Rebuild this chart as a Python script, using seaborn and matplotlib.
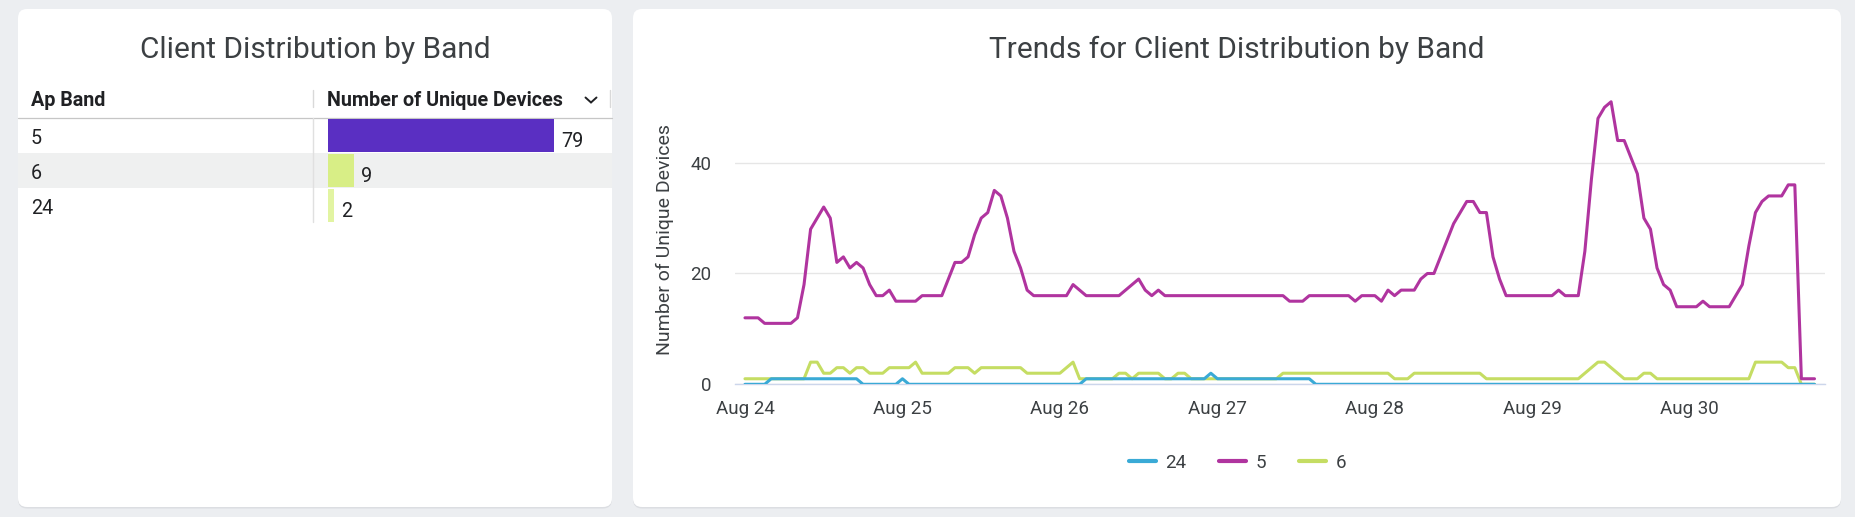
import pandas as pd
import matplotlib
matplotlib.use("Agg")
import matplotlib.pyplot as plt
import matplotlib.dates as mdates
import matplotlib.colors as mcolors
from matplotlib.patches import FancyBboxPatch, Rectangle
import seaborn as sns

W, H = 1856, 517

# --- table: client distribution by band ---
AP_BANDS = ["5", "6", "24"]
UNIQUE_DEVICES = [79, 9, 2]
BAR_COLORS = ["#5a2fc2", "#d8ee86", "#e2f4a2"]

# --- trend: hourly samples starting Aug 24 00:00 ---
START = pd.Timestamp("2024-08-24 00:00")
BAND_5 = [
    12, 12, 12, 11, 11, 11, 11, 11, 12, 18, 28, 30, 32, 30, 22, 23, 21, 22, 21, 18, 16, 16, 17, 15,
    15, 15, 15, 16, 16, 16, 16, 19, 22, 22, 23, 27, 30, 31, 35, 34, 30, 24, 21, 17, 16, 16, 16, 16,
    16, 16, 18, 17, 16, 16, 16, 16, 16, 16, 17, 18, 19, 17, 16, 17, 16, 16, 16, 16, 16, 16, 16, 16,
    16, 16, 16, 16, 16, 16, 16, 16, 16, 16, 16, 15, 15, 15, 16, 16, 16, 16, 16, 16, 16, 15, 16, 16,
    16, 15, 17, 16, 17, 17, 17, 19, 20, 20, 23, 26, 29, 31, 33, 33, 31, 31, 23, 19, 16, 16, 16, 16,
    16, 16, 16, 16, 17, 16, 16, 16, 24, 37, 48, 50, 51, 44, 44, 41, 38, 30, 28, 21, 18, 17, 14, 14,
    14, 14, 15, 14, 14, 14, 14, 16, 18, 25, 31, 33, 34, 34, 34, 36, 36, 1, 1, 1,
]
BAND_6 = [
    1, 1, 1, 1, 1, 1, 1, 1, 1, 1, 4, 4, 2, 2, 3, 3, 2, 3, 3, 2, 2, 2, 3, 3,
    3, 3, 4, 2, 2, 2, 2, 2, 3, 3, 3, 2, 3, 3, 3, 3, 3, 3, 3, 2, 2, 2, 2, 2,
    2, 3, 4, 1, 1, 1, 1, 1, 1, 2, 2, 1, 2, 2, 2, 2, 1, 1, 2, 2, 1, 1, 1, 1,
    1, 1, 1, 1, 1, 1, 1, 1, 1, 1, 2, 2, 2, 2, 2, 2, 2, 2, 2, 2, 2, 2, 2, 2,
    2, 2, 2, 1, 1, 1, 2, 2, 2, 2, 2, 2, 2, 2, 2, 2, 2, 1, 1, 1, 1, 1, 1, 1,
    1, 1, 1, 1, 1, 1, 1, 1, 2, 3, 4, 4, 3, 2, 1, 1, 1, 2, 2, 1, 1, 1, 1, 1,
    1, 1, 1, 1, 1, 1, 1, 1, 1, 1, 4, 4, 4, 4, 4, 3, 3, 0, 0, 0,
]
BAND_24 = [
    0, 0, 0, 0, 1, 1, 1, 1, 1, 1, 1, 1, 1, 1, 1, 1, 1, 1, 0, 0, 0, 0, 0, 0,
    1, 0, 0, 0, 0, 0, 0, 0, 0, 0, 0, 0, 0, 0, 0, 0, 0, 0, 0, 0, 0, 0, 0, 0,
    0, 0, 0, 0, 1, 1, 1, 1, 1, 1, 1, 1, 1, 1, 1, 1, 1, 1, 1, 1, 1, 1, 1, 2,
    1, 1, 1, 1, 1, 1, 1, 1, 1, 1, 1, 1, 1, 1, 1, 0, 0, 0, 0, 0, 0, 0, 0, 0,
    0, 0, 0, 0, 0, 0, 0, 0, 0, 0, 0, 0, 0, 0, 0, 0, 0, 0, 0, 0, 0, 0, 0, 0,
    0, 0, 0, 0, 0, 0, 0, 0, 0, 0, 0, 0, 0, 0, 0, 0, 0, 0, 0, 0, 0, 0, 0, 0,
    0, 0, 0, 0, 0, 0, 0, 0, 0, 0, 0, 0, 0, 0, 0, 0, 0, 0, 0, 0,
]
SERIES = ["24", "5", "6"]
LINE_COLORS = {"24": "#3aaad6", "5": "#b0349f", "6": "#c5dd63"}
LINE_ZORDER = {"24": 4, "5": 3, "6": 2.5}

TEXT = "#3c4043"
DARK = "#202124"


def fx(x):
    return x / W


def fy(y):
    return 1 - y / H


sns.set_style("white")
plt.rcParams["font.family"] = ["Roboto", "DejaVu Sans"]

fig = plt.figure(figsize=(W / 100, H / 100), dpi=100)
fig.patch.set_facecolor("#eceef1")

# background layer in pixel coordinates (cards, table chrome)
bg = fig.add_axes([0, 0, 1, 1], zorder=0)
bg.set_xlim(0, W)
bg.set_ylim(H, 0)
bg.axis("off")


def draw_card(x0, y0, x1, y1):
    style = "round,pad=0,rounding_size=9"
    bg.add_patch(FancyBboxPatch((x0, y0 + 1.5), x1 - x0, y1 - y0, boxstyle=style,
                                fc="#dcdee2", ec="none"))
    bg.add_patch(FancyBboxPatch((x0, y0), x1 - x0, y1 - y0, boxstyle=style,
                                fc="white", ec="none"))


draw_card(18, 9, 612, 507)
draw_card(633, 9, 1841, 507)

bg.text(315, 58, "Client Distribution by Band", ha="center", va="baseline",
        fontsize=21.5, color=TEXT)
bg.text(1237, 58, "Trends for Client Distribution by Band", ha="center",
        va="baseline", fontsize=21.5, color=TEXT)

# table header
bg.text(31, 106, "Ap Band", fontsize=14.2, fontweight="bold", color=DARK, va="baseline")
bg.text(327, 106, "Number of Unique Devices", fontsize=14.2, fontweight="bold",
        color=DARK, va="baseline")
bg.plot([585.5, 591, 596.5], [97.5, 102.5, 97.5], color=DARK, lw=1.4,
        solid_capstyle="round", solid_joinstyle="miter")
bg.plot([313, 313], [90, 107], color="#d9d9d9", lw=1)
bg.plot([610.5, 610.5], [90, 107], color="#d9d9d9", lw=1)
bg.plot([18, 612], [117.5, 117.5], color="#c6c6c6", lw=0.9)

# table rows
ROW_TOP, ROW_H = 118, 35
for i, band in enumerate(AP_BANDS):
    if i % 2 == 1:
        bg.add_patch(Rectangle((18, ROW_TOP + i * ROW_H - 0.5), 594, ROW_H,
                               fc="#eff0f0", ec="none"))
    bg.text(31, ROW_TOP + i * ROW_H + 26, band, fontsize=14.2, color=DARK,
            va="baseline")
bg.plot([313, 313], [ROW_TOP, ROW_TOP + 3 * ROW_H - 1], color="#e0e0e0", lw=1)

# bars in the table
px_per_unit = 226 / 79
bar_ax = fig.add_axes([fx(328), fy(ROW_TOP + 3 * ROW_H), (612 - 328) / W,
                       3 * ROW_H / H], zorder=1)
bar_ax.patch.set_alpha(0)
sns.barplot(x=UNIQUE_DEVICES, y=AP_BANDS, hue=AP_BANDS, order=AP_BANDS,
            hue_order=AP_BANDS, palette=BAR_COLORS, orient="h", width=0.943,
            saturation=1, linewidth=0, legend=False, ax=bar_ax)
bar_ax.set_xlim(0, (612 - 328) / px_per_unit)
bar_ax.set_ylim(2.5, -0.5)
bar_ax.axis("off")
for i, v in enumerate(UNIQUE_DEVICES):
    bar_ax.text(v + 7 / px_per_unit, i + 0.33, str(v), fontsize=14.2, color=DARK,
                va="baseline", ha="left")

# trend line chart
times = pd.date_range(START, periods=len(BAND_5), freq="h")
frames = []
for band, vals in zip(SERIES, [BAND_24, BAND_5, BAND_6]):
    frames.append(pd.DataFrame({"time": times, "devices": vals, "band": band}))
df = pd.concat(frames, ignore_index=True)

ax = fig.add_axes([fx(735), fy(384.3), 1090 / W, 304.7 / H], zorder=1)
ax.patch.set_alpha(0)
sns.lineplot(data=df, x="time", y="devices", hue="band", hue_order=SERIES,
             palette=LINE_COLORS, linewidth=2.2, errorbar=None, ax=ax)

for line in ax.lines:
    col = mcolors.to_hex(line.get_color())
    for band, c in LINE_COLORS.items():
        if col == c:
            line.set_zorder(LINE_ZORDER[band])

x0 = mdates.date2num(START - pd.Timedelta(hours=1.52))
x1 = mdates.date2num(START + pd.Timedelta(hours=164.6))
ax.set_xlim(x0, x1)
ax.set_ylim(0, 55)
ax.set_yticks([0, 20, 40])
ax.grid(axis="y", color="#e6e6e6", lw=1)
ax.grid(axis="x", visible=False)
ax.set_axisbelow(True)
for side in ["top", "right", "left"]:
    ax.spines[side].set_visible(False)
ax.spines["bottom"].set_color("#ccd6eb")
ax.spines["bottom"].set_linewidth(1)
ax.spines["bottom"].set_zorder(1)

ax.xaxis.set_major_locator(mdates.DayLocator())
ax.xaxis.set_major_formatter(mdates.DateFormatter("%b %d"))
ax.tick_params(axis="both", length=0, labelsize=13.5, labelcolor=TEXT)
ax.tick_params(axis="y", pad=17)
ax.tick_params(axis="x", pad=11)
ax.set_xlabel("")
ax.set_ylabel("Number of Unique Devices", fontsize=14, color=TEXT)
ax.yaxis.label.set_verticalalignment("center")
ax.yaxis.set_label_coords((665 - 735) / 1090, (384.3 - 240) / 304.7)

sns.move_legend(ax, "center", bbox_to_anchor=(1237.5 / W, 1 - 462.7 / H),
                bbox_transform=fig.transFigure, ncol=3, frameon=False, title=None,
                fontsize=13.5, handlelength=1.45, handletextpad=0.5,
                columnspacing=1.75)
leg = ax.get_legend()
for h in leg.get_lines():
    h.set_linewidth(3)
for t in leg.get_texts():
    t.set_color(TEXT)

fig.savefig("out.png", dpi=100, facecolor=fig.get_facecolor())
